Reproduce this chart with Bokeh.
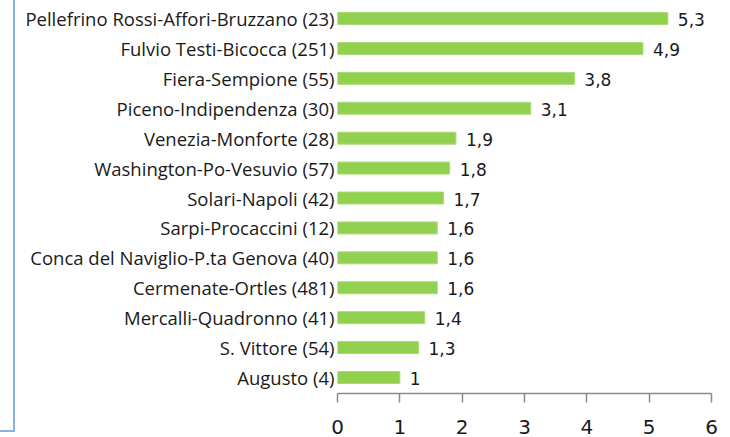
from bokeh.plotting import figure
from bokeh.models import ColumnDataSource, Range1d, FixedTicker, Div
from bokeh.layouts import row
from bokeh.core.properties import value
from bokeh.embed import file_html
from bokeh.resources import INLINE

categories = [
    "Pellefrino Rossi-Affori-Bruzzano (23)",
    "Fulvio Testi-Bicocca (251)",
    "Fiera-Sempione (55)",
    "Piceno-Indipendenza (30)",
    "Venezia-Monforte (28)",
    "Washington-Po-Vesuvio (57)",
    "Solari-Napoli (42)",
    "Sarpi-Procaccini (12)",
    "Conca del Naviglio-P.ta Genova (40)",
    "Cermenate-Ortles (481)",
    "Mercalli-Quadronno (41)",
    "S. Vittore (54)",
    "Augusto (4)",
]
values = [5.3, 4.9, 3.8, 3.1, 1.9, 1.8, 1.7, 1.6, 1.6, 1.6, 1.4, 1.3, 1.0]
x_ticks = [0, 1, 2, 3, 4, 5, 6]

value_labels = [f"{v:g}".replace(".", ",") for v in values]
n = len(categories)
ypos = [n - 1 - i for i in range(n)]

src = ColumnDataSource(dict(y=ypos, v=values, lab=value_labels, cat=categories))

CAT_FONT = "Open Sans"
NUM_FONT = "DejaVu Sans"
TXT = "#1a1a1a"

p = figure(width=714, height=437,
           x_range=Range1d(0, 6), y_range=Range1d(-0.535, 12.602),
           output_backend="svg", toolbar_location=None,
           min_border_left=322, min_border_right=18,
           min_border_top=0, min_border_bottom=44)
p.background_fill_color = "white"
p.border_fill_color = "white"
p.outline_line_color = None
p.xgrid.visible = False
p.ygrid.visible = False

p.hbar(y="y", left=0, right="v", height=0.4, source=src,
       fill_color="#92d050", line_color="#a8dc74", line_width=1)
p.text(x="v", y="y", text="lab", source=src, x_offset=10, y_offset=1,
       text_align="left", text_baseline="middle",
       text_font=value(NUM_FONT), text_font_size="17px", text_color=TXT)

xa = p.xaxis[0]
xa.ticker = FixedTicker(ticks=x_ticks)
xa.axis_line_color = "#8a8a8a"
xa.major_tick_line_color = "#8a8a8a"
xa.axis_line_width = 1.5
xa.major_tick_line_width = 1.5
xa.major_tick_out = 9
xa.major_tick_in = 0
xa.minor_tick_line_color = None
xa.major_label_standoff = 17
xa.major_label_text_font = NUM_FONT
xa.major_label_text_font_size = "20px"
xa.major_label_text_color = TXT

ya = p.yaxis[0]
ya.ticker = FixedTicker(ticks=ypos)
ya.major_label_overrides = {y: c for y, c in zip(ypos, categories)}
ya.axis_line_color = None
ya.major_tick_line_color = None
ya.minor_tick_line_color = None
ya.major_tick_out = 0
ya.major_tick_in = 0
ya.major_label_standoff = 3
ya.major_label_text_font = CAT_FONT
ya.major_label_text_font_size = "18.5px"
ya.major_label_text_color = TXT

edge = Div(width=15, height=432, margin=0,
           styles={"border-right": "2px solid #86b4e0",
                   "border-bottom": "2px solid #86b4e0",
                   "box-sizing": "border-box"})

layout = row(edge, p)
open("out.html", "w").write(file_html(layout, INLINE))
